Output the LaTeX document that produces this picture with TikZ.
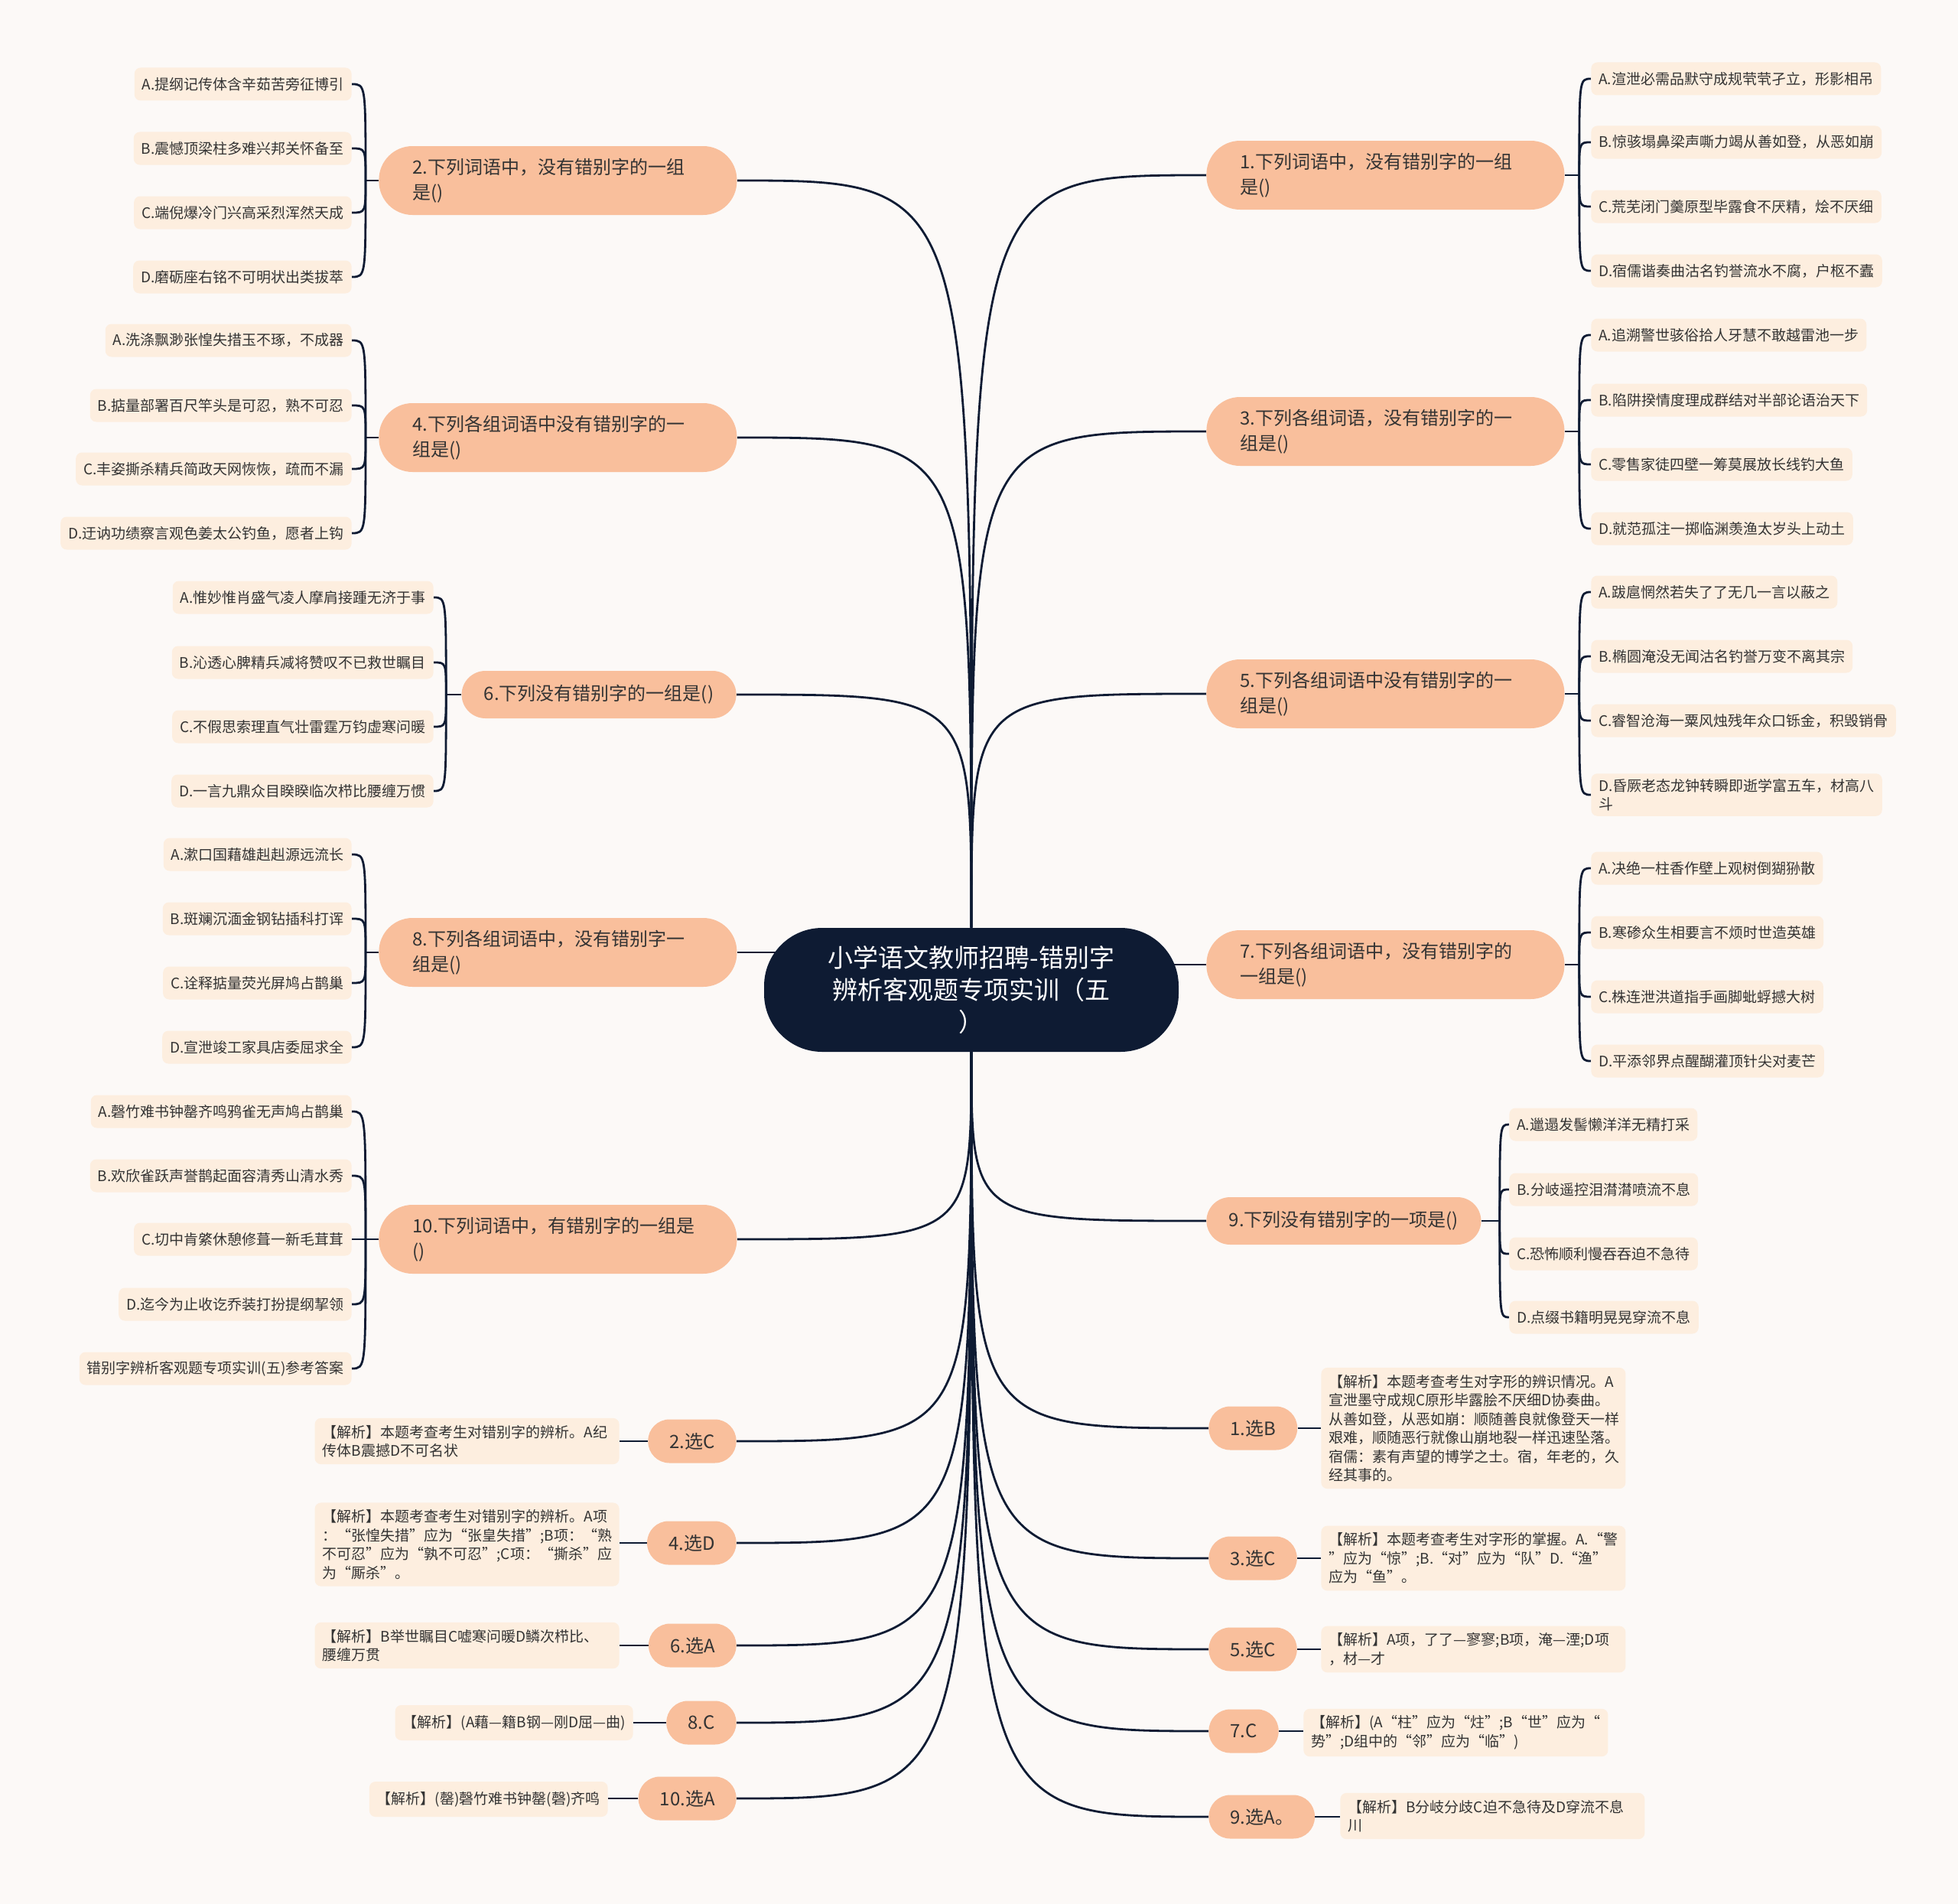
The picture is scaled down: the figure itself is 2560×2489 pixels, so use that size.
\documentclass[tikz,border=0pt]{standalone}
\usepackage{fontspec}
\setmainfont{Noto Sans CJK SC}
\usetikzlibrary{calc}
\pgfdeclarelayer{bg}
\pgfsetlayers{bg,main}
\definecolor{bgc}{HTML}{FCF9F7}
\definecolor{navy}{HTML}{0E1B33}
\definecolor{peach}{HTML}{F9BF9C}
\definecolor{cream}{HTML}{FDEEDF}
\definecolor{ink}{HTML}{333333}
\begin{document}
\begin{tikzpicture}[x=0.5pt,y=-0.5pt,
 centernode/.style={fill=navy, text=white, rounded corners=38pt, minimum width=271pt, minimum height=81pt, align=center, inner sep=0pt, font=\fontsize{16.5pt}{21pt}\selectfont},
 branch/.style={fill=peach, text=ink, rounded corners=22pt, minimum height=45pt, text width=190pt, inner xsep=22pt, align=left, font=\fontsize{12pt}{16.5pt}\selectfont},
 branchs/.style={fill=peach, text=ink, rounded corners=15.5pt, minimum height=31pt, minimum width=179.5pt, align=center, font=\fontsize{12pt}{16.5pt}\selectfont},
 ans/.style={fill=peach, text=ink, rounded corners=14pt, minimum height=28.5pt, inner xsep=14pt, font=\fontsize{12pt}{14pt}\selectfont},
 leaf/.style={fill=cream, text=ink, rounded corners=4pt, minimum height=21.5pt, inner xsep=5pt, align=left, font=\fontsize{9.5pt}{12.25pt}\selectfont},
 expl/.style={fill=cream, text=ink, rounded corners=4pt, inner xsep=5pt, inner ysep=4.5pt, text width=189pt, align=left, font=\fontsize{9.5pt}{12.25pt}\selectfont},
 explone/.style={fill=cream, text=ink, rounded corners=4pt, inner xsep=5pt, minimum height=23pt, font=\fontsize{9.5pt}{12.25pt}\selectfont},
 link/.style={draw=navy, line width=1.4pt},
]
\useasboundingbox (0,0) rectangle (2560,2489);
\begin{pgfonlayer}{bg}
\fill[bgc] (0,0) rectangle (2560,2489);
\end{pgfonlayer}

% centre
\node[centernode] (c) at (1270,1294) {小学语文教师招聘-错别字\\辨析客观题专项实训（五\\）};

% branches
\node[branch, anchor=west] (b2) at (495,236) {2.下列词语中，没有错别字的一组\\是()};
\node[branch, anchor=west] (b4) at (495,572) {4.下列各组词语中没有错别字的一\\组是()};
\node[branchs, anchor=east] (b6) at (963,908) {6.下列没有错别字的一组是()};
\node[branch, anchor=west] (b8) at (495,1245) {8.下列各组词语中，没有错别字一\\组是()};
\node[branch, anchor=west] (b10) at (495,1620) {10.下列词语中，有错别字的一组是\\()};
\node[branch, anchor=west] (b1) at (1577,229) {1.下列词语中，没有错别字的一组\\是()};
\node[branch, anchor=west] (b3) at (1577,564) {3.下列各组词语，没有错别字的一\\组是()};
\node[branch, anchor=west] (b5) at (1577,907) {5.下列各组词语中没有错别字的一\\组是()};
\node[branch, anchor=west] (b7) at (1577,1261) {7.下列各组词语中，没有错别字的\\一组是()};
\node[branchs, anchor=west] (b9) at (1577,1596) {9.下列没有错别字的一项是()};

% leaves, left
\node[leaf, anchor=east] (l2a) at (460,110) {A.提纲记传体含辛茹苦旁征博引};
\node[leaf, anchor=east] (l2b) at (460,194) {B.震憾顶梁柱多难兴邦关怀备至};
\node[leaf, anchor=east] (l2c) at (460,278) {C.端倪爆冷门兴高采烈浑然天成};
\node[leaf, anchor=east] (l2d) at (460,362) {D.磨砺座右铭不可明状出类拔萃};
\node[leaf, anchor=east] (l4a) at (460,445) {A.洗涤飘渺张惶失措玉不琢，不成器};
\node[leaf, anchor=east] (l4b) at (460,530) {B.掂量部署百尺竿头是可忍，熟不可忍};
\node[leaf, anchor=east] (l4c) at (460,613) {C.丰姿撕杀精兵简政天网恢恢，疏而不漏};
\node[leaf, anchor=east] (l4d) at (460,697) {D.迂讷功绩察言观色姜太公钓鱼，愿者上钩};
\node[leaf, anchor=east] (l6a) at (567,781) {A.惟妙惟肖盛气凌人摩肩接踵无济于事};
\node[leaf, anchor=east] (l6b) at (567,866) {B.沁透心脾精兵减将赞叹不已救世瞩目};
\node[leaf, anchor=east] (l6c) at (567,950) {C.不假思索理直气壮雷霆万钧虚寒问暖};
\node[leaf, anchor=east] (l6d) at (567,1034) {D.一言九鼎众目睽睽临次栉比腰缠万惯};
\node[leaf, anchor=east] (l8a) at (460,1117) {A.漱口国藉雄赳赳源远流长};
\node[leaf, anchor=east] (l8b) at (460,1201) {B.斑斓沉湎金钢钻插科打诨};
\node[leaf, anchor=east] (l8c) at (460,1285) {C.诠释掂量荧光屏鸠占鹊巢};
\node[leaf, anchor=east] (l8d) at (460,1369) {D.宣泄竣工家具店委屈求全};
\node[leaf, anchor=east] (l10a) at (460,1453) {A.磬竹难书钟罄齐鸣鸦雀无声鸠占鹊巢};
\node[leaf, anchor=east] (l10b) at (460,1537) {B.欢欣雀跃声誉鹊起面容清秀山清水秀};
\node[leaf, anchor=east] (l10c) at (460,1620) {C.切中肯綮休憩修葺一新毛茸茸};
\node[leaf, anchor=east] (l10d) at (460,1705) {D.迄今为止收讫乔装打扮提纲挈领};
\node[leaf, anchor=east] (l10e) at (460,1789) {错别字辨析客观题专项实训(五)参考答案};

% leaves, right
\node[leaf, anchor=west] (l1a) at (2080,103) {A.渲泄必需品默守成规茕茕孑立，形影相吊};
\node[leaf, anchor=west] (l1b) at (2080,186) {B.惊骇塌鼻梁声嘶力竭从善如登，从恶如崩};
\node[leaf, anchor=west] (l1c) at (2080,270) {C.荒芜闭门羹原型毕露食不厌精，烩不厌细};
\node[leaf, anchor=west] (l1d) at (2080,354) {D.宿儒谐奏曲沽名钓誉流水不腐，户枢不蠹};
\node[leaf, anchor=west] (l3a) at (2080,438) {A.追溯警世骇俗拾人牙慧不敢越雷池一步};
\node[leaf, anchor=west] (l3b) at (2080,523) {B.陷阱揆情度理成群结对半部论语治天下};
\node[leaf, anchor=west] (l3c) at (2080,607) {C.零售家徒四壁一筹莫展放长线钓大鱼};
\node[leaf, anchor=west] (l3d) at (2080,691) {D.就范孤注一掷临渊羡渔太岁头上动土};
\node[leaf, anchor=west] (l5a) at (2080,774) {A.跋扈惘然若失了了无几一言以蔽之};
\node[leaf, anchor=west] (l5b) at (2080,858) {B.椭圆淹没无闻沽名钓誉万变不离其宗};
\node[leaf, anchor=west] (l5c) at (2080,942) {C.睿智沧海一粟风烛残年众口铄金，积毁销骨};
\node[leaf, anchor=west] (l5d) at (2080,1039) {D.昏厥老态龙钟转瞬即逝学富五车，材高八\\斗};
\node[leaf, anchor=west] (l7a) at (2080,1135) {A.决绝一柱香作壁上观树倒猢狲散};
\node[leaf, anchor=west] (l7b) at (2080,1219) {B.寒碜众生相要言不烦时世造英雄};
\node[leaf, anchor=west] (l7c) at (2080,1303) {C.株连泄洪道指手画脚蚍蜉撼大树};
\node[leaf, anchor=west] (l7d) at (2080,1387) {D.平添邻界点醒醐灌顶针尖对麦芒};
\node[leaf, anchor=west] (l9a) at (1973,1470) {A.邋遢发髻懒洋洋无精打采};
\node[leaf, anchor=west] (l9b) at (1973,1555) {B.分岐遥控泪潸潸喷流不息};
\node[leaf, anchor=west] (l9c) at (1973,1639) {C.恐怖顺利慢吞吞迫不急待};
\node[leaf, anchor=west] (l9d) at (1973,1722) {D.点缀书籍明晃晃穿流不息};

% answers
\node[ans, anchor=east] (a2) at (963,1884) {2.选C};
\node[ans, anchor=east] (a4) at (963,2017) {4.选D};
\node[ans, anchor=east] (a6) at (963,2151) {6.选A};
\node[ans, anchor=east] (a8) at (963,2252) {8.C};
\node[ans, anchor=east] (a10) at (963,2351) {10.选A};
\node[ans, anchor=west] (a1) at (1580,1867) {1.选B};
\node[ans, anchor=west] (a3) at (1580,2037) {3.选C};
\node[ans, anchor=west] (a5) at (1580,2156) {5.选C};
\node[ans, anchor=west] (a7) at (1580,2263) {7.C};
\node[ans, anchor=west] (a9) at (1580,2375) {9.选A。};

% explanations
\node[expl, anchor=east] (e2) at (810,1884) {【解析】本题考查考生对错别字的辨析。A纪\\传体B震撼D不可名状};
\node[expl, anchor=east] (e4) at (810,2019) {【解析】本题考查考生对错别字的辨析。A项\\：“张惶失措”应为“张皇失措”;B项：“熟\\不可忍”应为“孰不可忍”;C项：“撕杀”应\\为“厮杀”。};
\node[expl, anchor=east] (e6) at (810,2151) {【解析】B举世瞩目C嘘寒问暖D鳞次栉比、\\腰缠万贯};
\node[explone, anchor=east] (e8) at (828,2252) {【解析】(A藉—籍B钢—刚D屈—曲)};
\node[explone, anchor=east] (e10) at (795,2352) {【解析】(罄)磬竹难书钟罄(磬)齐鸣};
\node[expl, anchor=west] (e1) at (1727,1867) {【解析】本题考查考生对字形的辨识情况。A\\宣泄墨守成规C原形毕露脍不厌细D协奏曲。\\从善如登，从恶如崩：顺随善良就像登天一样\\艰难，顺随恶行就像山崩地裂一样迅速坠落。\\宿儒：素有声望的博学之士。宿，年老的，久\\经其事的。};
\node[expl, anchor=west] (e3) at (1727,2037) {【解析】本题考查考生对字形的掌握。A.“警\\”应为“惊”;B.“对”应为“队”D.“渔”\\应为“鱼”。};
\node[expl, anchor=west] (e5) at (1727,2156) {【解析】A项，了了—寥寥;B项，淹—湮;D项\\，材—才};
\node[expl, anchor=west] (e7) at (1704,2265) {【解析】(A“柱”应为“炷”;B“世”应为“\\势”;D组中的“邻”应为“临”)};
\node[expl, anchor=west] (e9) at (1752,2374) {【解析】B分岐分歧C迫不急待及D穿流不息\\川};

% connectors
\begin{pgfonlayer}{bg}
\foreach \nn in {b2,b4,b6} \draw[link] (c.north) .. controls (c.north |- \nn.east) .. (\nn.east);
\foreach \nn in {b1,b3,b5} \draw[link] (c.north) .. controls (c.north |- \nn.west) .. (\nn.west);
\draw[link] (b8.east) -- (b8.east -| c.center);
\draw[link] (b7.west) -- (b7.west -| c.center);
\foreach \nn in {b10,a2,a4,a6,a8,a10} \draw[link] (c.south) .. controls (c.south |- \nn.east) .. (\nn.east);
\foreach \nn in {b9,a1,a3,a5,a7,a9} \draw[link] (c.south) .. controls (c.south |- \nn.west) .. (\nn.west);

% leaf brackets
\coordinate (j2) at ($(b2.west)+(-17,0)$);
\coordinate (j4) at ($(b4.west)+(-17,0)$);
\coordinate (j6) at ($(b6.west)+(-20,0)$);
\coordinate (j8) at ($(b8.west)+(-17,0)$);
\coordinate (j10) at ($(b10.west)+(-17,0)$);
\coordinate (j1) at ($(b1.east)+(19,0)$);
\coordinate (j3) at ($(b3.east)+(19,0)$);
\coordinate (j5) at ($(b5.east)+(19,0)$);
\coordinate (j7) at ($(b7.east)+(19,0)$);
\coordinate (j9) at ($(b9.east)+(24,0)$);
\foreach \bb in {2,4,6,8,10} \draw[link] (b\bb.west) -- (j\bb);
\foreach \bb in {1,3,5,7,9} \draw[link] (b\bb.east) -- (j\bb);
\foreach \bb/\ll in {2/l2a,2/l2b,2/l2c,2/l2d,4/l4a,4/l4b,4/l4c,4/l4d,6/l6a,6/l6b,6/l6c,6/l6d,8/l8a,8/l8b,8/l8c,8/l8d,10/l10a,10/l10b,10/l10c,10/l10d,10/l10e}
  \draw[link] (j\bb) .. controls (j\bb |- \ll.east) and (j\bb |- \ll.east) .. (\ll.east);
\foreach \bb/\ll in {1/l1a,1/l1b,1/l1c,1/l1d,3/l3a,3/l3b,3/l3c,3/l3d,5/l5a,5/l5b,5/l5c,5/l5d,7/l7a,7/l7b,7/l7c,7/l7d,9/l9a,9/l9b,9/l9c,9/l9d}
  \draw[link] (j\bb) .. controls (j\bb |- \ll.west) and (j\bb |- \ll.west) .. (\ll.west);

% answer to explanation
\foreach \nn in {2,4,6,8,10} \draw[link] (a\nn.west) -- (a\nn.west -| e\nn.east);
\foreach \nn in {1,3,5,7,9} \draw[link] (a\nn.east) -- (a\nn.east -| e\nn.west);
\end{pgfonlayer}
\end{tikzpicture}
\end{document}
